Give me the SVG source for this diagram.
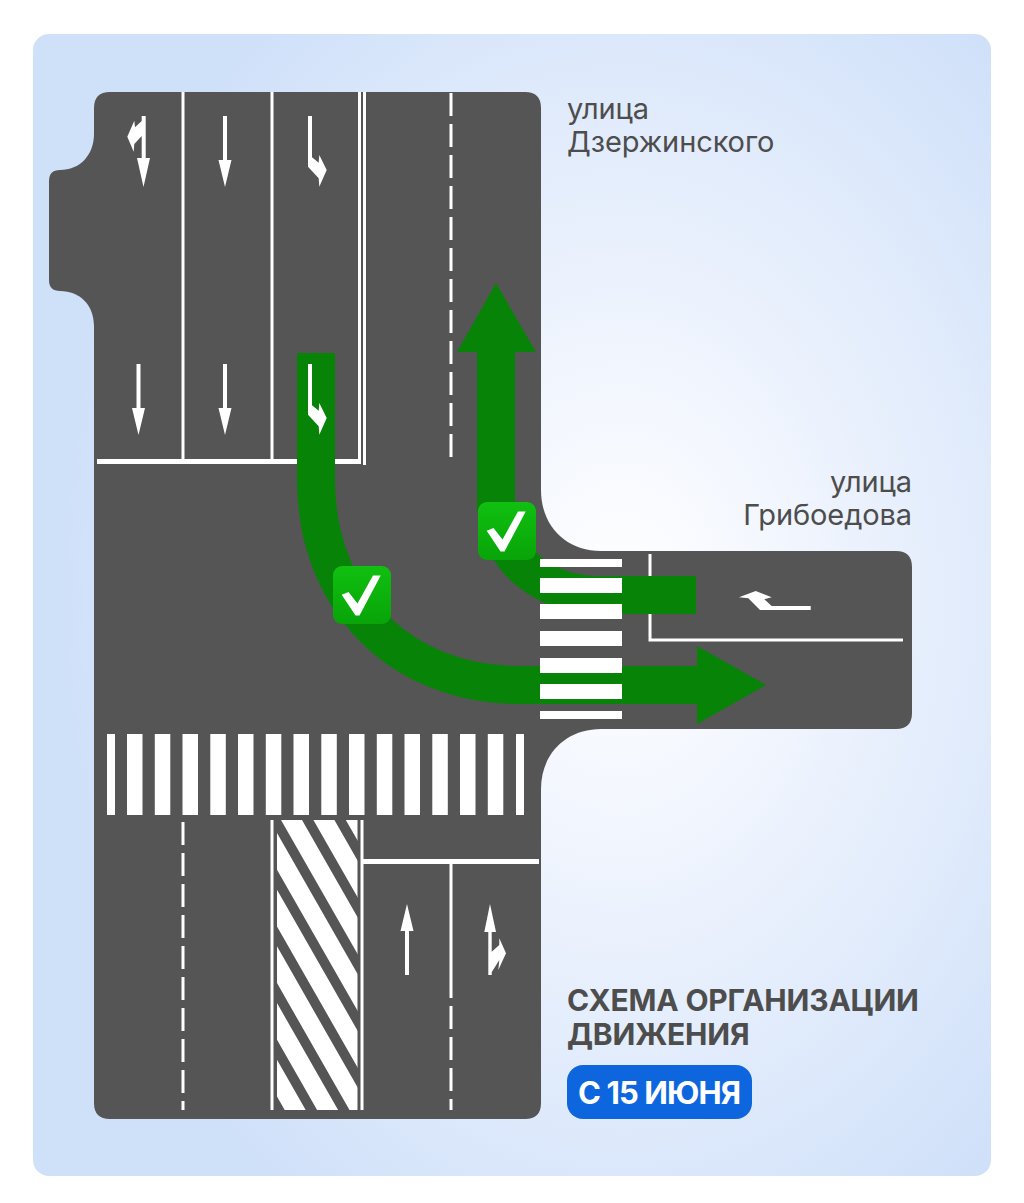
<svg xmlns="http://www.w3.org/2000/svg" width="1024" height="1203" viewBox="0 0 1024 1203">
<defs>
<radialGradient id="bg" gradientUnits="userSpaceOnUse" cx="620" cy="600" r="750" gradientTransform="translate(620 600) scale(0.75 1) translate(-620 -600)">
<stop offset="0" stop-color="#ffffff"/><stop offset="0.3" stop-color="#f2f6fe"/><stop offset="1" stop-color="#cfe0f9"/>
</radialGradient>
<linearGradient id="tile" x1="0" y1="0" x2="0" y2="1"><stop offset="0" stop-color="#10c010"/><stop offset="1" stop-color="#08a408"/></linearGradient>
<clipPath id="hatchClip"><rect x="277" y="820" width="80.5" height="290"/></clipPath>
<g id="tick"><rect width="58" height="58" rx="9" fill="url(#tile)"/><path d="M8.7 28.7L15.5 26L24.5 37.5L40 9.5H47.7L26.5 49.5H22.5Z" fill="#fff"/></g>
<path id="down" d="M-2 0H2V44H6.5L0 71L-6.5 44H-2Z"/>
<path id="rightdown" d="M308 116H312V157.3L318.7 162.7L319.3 155L326.7 170L319.3 186.7L318.7 178.3L308 166.7Z"/>
</defs>
<style>
.w{fill:#fff}
.l{stroke:#fff;stroke-width:3;fill:none}
.d{stroke:#fff;stroke-width:3;fill:none;stroke-dasharray:23 8}
.g{stroke:#078407;stroke-width:38;fill:none}
.h{fill:#078407}
.t{font-family:"Inter","Roboto","Liberation Sans",sans-serif;fill:#4d4d4d}
.n{font-size:29px;letter-spacing:-0.1px}
.b{font-size:30px;font-weight:700;letter-spacing:-0.2px}
.c{font-family:"Inter","Roboto","Liberation Sans",sans-serif;font-size:31px;font-weight:700;letter-spacing:-0.9px;fill:#fff}
</style>
<rect id="panel" x="33" y="34" width="958" height="1142" rx="16" fill="url(#bg)"/>
<path id="road" fill="#555555" d="M110 92H525Q541 92 541 108V490C541 526 566 551 601 551H896Q912 551 912 567V713Q912 729 896 729H601C566 729 541 754 541 789V1103Q541 1119 525 1119H110Q94 1119 94 1103V326C94 305 80 291 60 291Q49 291 49 280V181Q49 170 60 170C80 170 94 155 94 134V108Q94 92 110 92Z"/>
<g id="markings">
<path class="l" d="M183 92V460M272 92V460M359.5 92V460M364.5 92V465M272 820V1110M362 820V1110M451 864V998M650 554V640H903"/>
<path d="M97 461.5H361M362 861.5H539" stroke="#fff" stroke-width="5" fill="none"/>
<path class="d" d="M451 93V462M183 822V1110M451 1006V1110"/>
<g clip-path="url(#hatchClip)"><path class="w" d="M119 820h21l165.7 290h-21zM151.4 820h21l165.7 290h-21zM183.8 820h21l165.7 290h-21zM216.2 820h21l165.7 290h-21zM248.6 820h21l165.7 290h-21zM281 820h21l165.7 290h-21zM313.4 820h21l165.7 290h-21zM345.8 820h21l165.7 290h-21z"/></g>
</g>
<g id="connectors">
<path id="route-right" class="g" d="M316 353V480C316 600 400 685 520 685H697"/>
<path class="h" d="M697 646L766 685L697 724Z"/>
<path id="route-up" class="g" d="M696 595H600C545 595 496 560 496 500V350"/>
<path class="h" d="M457 352L496 283L536 352Z"/>
</g>
<g id="crosswalks">
<path class="w" d="M540 559h82v8h-82zM540 578h82v15h-82zM540 604h82v15h-82zM540 631h82v15h-82zM540 658h82v15h-82zM540 684h82v15h-82zM540 711h82v8h-82z"/>
<path class="w" d="M107 734h8v81h-8zM127 734h15.5v81h-15.5zM154.8 734h15.5v81h-15.5zM182.5 734h15.5v81h-15.5zM210.3 734h15.5v81h-15.5zM238 734h15.5v81h-15.5zM265.8 734h15.5v81h-15.5zM293.5 734h15.5v81h-15.5zM321.3 734h15.5v81h-15.5zM349 734h15.5v81h-15.5zM376.8 734h15.5v81h-15.5zM404.5 734h15.5v81h-15.5zM432.3 734h15.5v81h-15.5zM460 734h15.5v81h-15.5zM487.8 734h15.5v81h-15.5zM516 734h8v81h-8z"/>
</g>
<g id="lane-arrows" class="w">
<path d="M141.7 116H145.7V158H150L143.5 187L137 158H141.7V136L134.3 144L133.7 151.7L127.3 136.7L134.3 120.7L135 127.3L141.7 121Z"/>
<use href="#down" x="225" y="116"/>
<use href="#rightdown"/>
<use href="#down" x="138.5" y="364"/>
<use href="#down" x="225" y="364"/>
<use href="#rightdown" y="248"/>
<use href="#down" transform="translate(407 975) scale(1 -1)"/>
<path d="M488.3 975V932H484.3L490 904L496 932H491.7V951.7L499.3 945V938.3L506 953.3L498.3 970L499.3 960L491.7 972.3V975Z"/>
<path d="M810.7 606V610H760L748.3 598.3L739 597.3L755.7 591L771.7 597.3L764.3 599.3L771.7 606Z"/>
</g>
<g id="tick-1"><use href="#tick" x="333" y="566"/></g>
<g id="tick-2"><use href="#tick" x="478" y="502"/></g>
<g id="label-dzerzhinsky"><text class="t n" x="567" y="119">улица</text><text class="t n" x="567" y="152">Дзержинского</text></g>
<g id="label-griboedova"><text class="t n" x="912" y="492" text-anchor="end">улица</text><text class="t n" x="912" y="525" text-anchor="end">Грибоедова</text></g>
<g id="title"><text class="t b" x="567" y="1011">СХЕМА ОРГАНИЗАЦИИ</text><text class="t b" x="567" y="1045">ДВИЖЕНИЯ</text></g>
<g id="date-badge"><rect x="567" y="1065" width="185" height="54" rx="16" fill="#0e66df"/><text class="c" x="578" y="1104">С 15 ИЮНЯ</text></g>
</svg>
